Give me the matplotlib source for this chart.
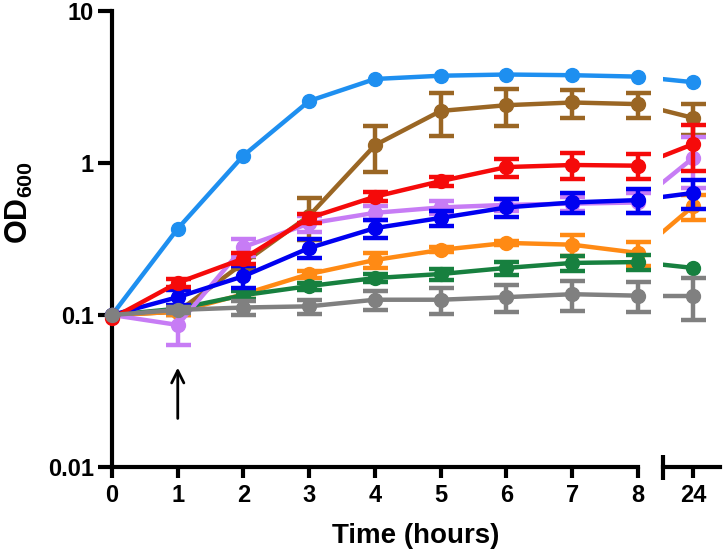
import numpy as np
import matplotlib
matplotlib.use('Agg')
import matplotlib.pyplot as plt

plt.rcParams['font.family'] = ['Liberation Sans', 'DejaVu Sans']
plt.rcParams['font.weight'] = 'bold'
plt.rcParams['mathtext.fontset'] = 'custom'
plt.rcParams['mathtext.rm'] = 'Liberation Sans:bold'
plt.rcParams['mathtext.bf'] = 'Liberation Sans:bold'

# time points (hours); 24 h sits after an axis break
hours = [0, 1, 2, 3, 4, 5, 6, 7, 8, 24]
tick_labels = ['0', '1', '2', '3', '4', '5', '6', '7', '8', '24']

# OD600 means and SD per strain
lightblue = [0.10, 0.37, 1.12, 2.56, 3.57, 3.75, 3.82, 3.78, 3.70, 3.40]
lightblue_sd = [0, 0, 0, 0, 0, 0, 0, 0, 0, 0]
brown = [0.10, 0.105, 0.22, 0.45, 1.31, 2.20, 2.40, 2.50, 2.44, 1.98]
brown_sd = [0, 0.005, 0.02, 0.14, 0.44, 0.70, 0.65, 0.52, 0.46, 0.45]
red = [0.095, 0.163, 0.235, 0.435, 0.60, 0.76, 0.94, 0.97, 0.96, 1.33]
red_sd = [0, 0.01, 0.02, 0.03, 0.04, 0.05, 0.13, 0.19, 0.18, 0.45]
violet = [0.10, 0.086, 0.28, 0.40, 0.47, 0.51, 0.53, 0.54, 0.55, 1.08]
violet_sd = [0, 0.023, 0.035, 0.05, 0.05, 0.05, 0.05, 0.06, 0.08, 0.40]
blue = [0.10, 0.131, 0.18, 0.276, 0.373, 0.435, 0.51, 0.55, 0.57, 0.635]
blue_sd = [0, 0.015, 0.03, 0.04, 0.05, 0.05, 0.07, 0.08, 0.10, 0.14]
orange = [0.10, 0.105, 0.137, 0.186, 0.23, 0.268, 0.298, 0.29, 0.256, 0.52]
orange_sd = [0, 0.005, 0.01, 0.01, 0.025, 0.01, 0.01, 0.045, 0.045, 0.10]
green = [0.10, 0.11, 0.135, 0.155, 0.175, 0.186, 0.204, 0.22, 0.223, 0.204]
green_sd = [0, 0.005, 0.008, 0.008, 0.01, 0.015, 0.02, 0.025, 0.025, 0]
gray = [0.10, 0.108, 0.112, 0.114, 0.126, 0.126, 0.131, 0.137, 0.134, 0.134]
gray_sd = [0, 0.005, 0.012, 0.012, 0.018, 0.024, 0.027, 0.03, 0.03, 0.042]

series = [
    (lightblue, lightblue_sd, '#1E8FF0'),
    (brown, brown_sd, '#9A6624'),
    (orange, orange_sd, '#FF8A14'),
    (green, green_sd, '#17803F'),
    (violet, violet_sd, '#C77CF5'),
    (blue, blue_sd, '#0000F0'),
    (red, red_sd, '#F50A0A'),
    (gray, gray_sd, '#808080'),
]

arrow_x = 1
arrow_from, arrow_to = 0.02, 0.047

# plotting position of the 24 h point behind the break
pos = np.array(hours, dtype=float)
pos[-1] = 8.84

fig = plt.figure(figsize=(7.24, 5.55), dpi=100)
ax1 = fig.add_axes([0.1547, 0.1586, 0.7265, 0.8216])
ax2 = fig.add_axes([0.9157, 0.1586, 0.0787, 0.8216], sharey=ax1)

lw = 3.2
ms = 10
for i, (vals, sd, col) in enumerate(series):
    z = 3 + i
    vals = np.array(vals)
    sd = np.array(sd)
    has = sd > 0
    left = np.arange(10) < 9
    # left panel: 0-8 h
    arts = ax1.plot(pos[:9], vals[:9], color=col, lw=lw, marker='o', ms=ms,
                    zorder=z)
    m = has & left
    if m.any():
        c = ax1.errorbar(pos[m], vals[m], yerr=sd[m], fmt='none', ecolor=col,
                         capsize=9, capthick=lw, elinewidth=lw, zorder=z)
        arts += list(c.get_children())
    for a in arts:
        a.set_clip_on(False)
    # right panel: line from 8 h into 24 h
    ax2.plot(pos[8:], vals[8:], color=col, lw=lw, zorder=z)
    ax2.plot(pos[9:], vals[9:], color=col, marker='o', ms=ms, zorder=z)
    if has[9]:
        ax2.errorbar(pos[9:], vals[9:], yerr=sd[9:], fmt='none', ecolor=col,
                     capsize=9, capthick=lw, elinewidth=lw, zorder=z)

ax1.annotate('', xy=(arrow_x, arrow_to), xytext=(arrow_x, arrow_from),
             arrowprops=dict(arrowstyle='->', lw=2, color='black',
                             mutation_scale=22))

ax1.set_yscale('log')
ax1.set_ylim(0.01, 10)
ax1.set_yticks([0.01, 0.1, 1, 10])
ax1.set_yticklabels(['0.01', '0.1', '1', '10'])
ax1.yaxis.set_minor_locator(plt.NullLocator())
ax1.set_xlim(0, 8)
ax1.set_xticks(pos[:9])
ax1.set_xticklabels(tick_labels[:9])
ax1.set_xticks([8], minor=True)

ax2.set_xlim(8.38, 9.25)
ax2.set_xticks([pos[9]])
ax2.set_xticklabels([tick_labels[9]])
ax2.set_xticks([8.38], minor=True)

for ax in (ax1, ax2):
    ax.spines['top'].set_visible(False)
    ax.spines['right'].set_visible(False)
    ax.spines['left'].set_linewidth(3)
    ax.spines['bottom'].set_linewidth(3)
    ax.tick_params(axis='both', which='major', direction='out', length=8,
                   width=3, labelsize=17, pad=4)
    ax.tick_params(axis='x', which='minor', direction='inout', length=18,
                   width=3)
    for t in ax.get_xticklabels() + ax.get_yticklabels():
        t.set_fontweight('bold')

ax1.tick_params(axis='y', which='major', length=10, pad=3)
ax2.spines['left'].set_visible(False)
ax2.tick_params(axis='y', which='both', left=False, labelleft=False)

ax1.set_ylabel(r'$\mathrm{OD}_{\mathrm{600}}$', fontsize=22)
ax1.yaxis.set_label_coords(-0.146, 0.58)
# x label is centred under both axis pieces
fig.text(0.5746, 0.022, 'Time (hours)', fontsize=20, fontweight='bold',
         ha='center', va='baseline')

fig.savefig('out.png', dpi=100)
